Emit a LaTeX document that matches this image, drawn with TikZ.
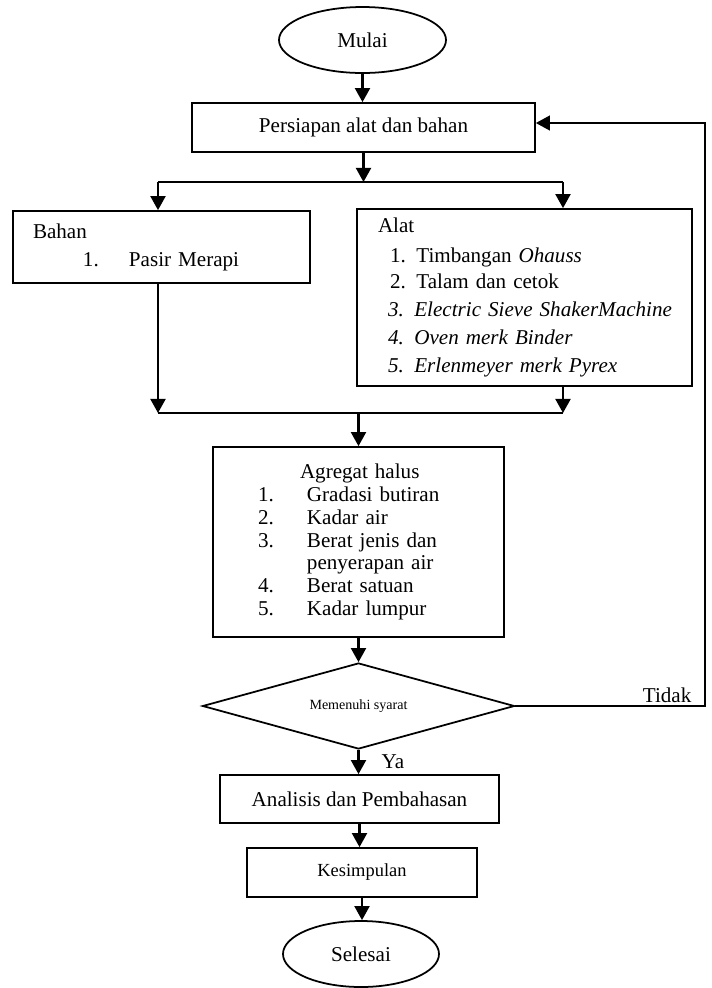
\documentclass[tikz,border=0pt]{standalone}
\usepackage{fontspec}
\setmainfont{Liberation Serif}
\usetikzlibrary{arrows.meta, positioning, calc, shapes.geometric}
\tikzset{
    procbox/.style={draw, line width=1pt, rectangle, inner sep=0pt,
                    font=\fontsize{12}{13}\selectfont},
    termnode/.style={draw, line width=1pt, ellipse, inner sep=0pt,
                     font=\fontsize{12}{13}\selectfont},
    decnode/.style={draw, line width=1pt, diamond, inner sep=0pt,
                    shape aspect=3.6, font=\fontsize{8}{9}\selectfont},
    flowarrow/.style={-{Triangle[length=8pt, width=8.5pt]}, line width=1.3pt},
    flowline/.style={-, line width=1.1pt},
    looparrow/.style={-{Triangle[length=8pt, width=8.5pt]}, line width=0.8pt},
    flowlabel/.style={font=\fontsize{12}{13}\selectfont, inner sep=0pt},
}

\begin{document}
\begin{tikzpicture}
\useasboundingbox (0,0) rectangle (14.22,-19.76);
% Start and preparation.
\node[termnode, minimum width=3.34cm, minimum height=1.32cm] (mulai) at (7.25,-0.80) {Mulai};
\node[procbox, minimum width=6.86cm, minimum height=0.98cm] (persiapan) at (7.27,-2.55) {Persiapan alat dan bahan};
% Materials and tools.
\node[procbox, minimum height=1.44cm, text width=5.14cm, inner xsep=0.40cm, align=left] (bahan) at (3.23,-4.94)
    {Bahan\\[2.9pt]
     \hspace*{1.0cm}\makebox[0.92cm][l]{1.}Pasir Merapi};
\node[procbox, minimum height=3.54cm, text width=6.50cm, inner xsep=0.10cm, align=left] (alat) at (10.49,-5.95)
    {\hspace*{0.32cm}Alat\\[4pt]
     \hspace*{0.56cm}1. Timbangan \textit{Ohauss}\\[1.8pt]
     \hspace*{0.56cm}2. Talam dan cetok\\[2.9pt]
     \hspace*{0.52cm}\textit{3. Electric Sieve ShakerMachine}\\[2.9pt]
     \hspace*{0.52cm}\textit{4. Oven merk Binder}\\[2.9pt]
     \hspace*{0.52cm}\textit{5. Erlenmeyer merk Pyrex}};
% Tests on the fine aggregate.
\node[procbox, minimum height=3.80cm, text width=4.02cm, inner xsep=0.90cm, align=left] (agregat) at (7.17,-10.84)
    {\hspace*{0.84cm}Agregat halus\\
     \makebox[0.98cm][l]{1.}Gradasi butiran\\
     \makebox[0.98cm][l]{2.}Kadar air\\
     \makebox[0.98cm][l]{3.}Berat jenis dan\\
     \hspace*{0.98cm}penyerapan air\\
     \makebox[0.98cm][l]{4.}Berat satuan\\
     \makebox[0.98cm][l]{5.}Kadar lumpur};
% Decision and end.
\node[decnode, minimum width=6.24cm, minimum height=1.72cm] (syarat) at (7.17,-14.12) {Memenuhi syarat};
\node[procbox, minimum width=5.58cm, minimum height=0.96cm] (analisis) at (7.19,-15.98) {Analisis dan Pembahasan};
\node[procbox, minimum width=4.60cm, minimum height=0.98cm, font=\fontsize{10.5}{12}\selectfont] (kesimpulan) at (7.24,-17.45) {Kesimpulan};
\node[termnode, minimum width=3.12cm, minimum height=1.32cm] (selesai) at (7.22,-19.08) {Selesai};
% Branch and join points.
\coordinate (split) at (7.27,-3.64);
\coordinate (splitL) at (3.16,-3.64);
\coordinate (splitR) at (11.26,-3.64);
\coordinate (join) at (7.17,-8.26);
\coordinate (joinL) at (3.16,-8.26);
\coordinate (joinR) at (11.26,-8.26);
\coordinate (loopB) at (14.10,-14.12);
\coordinate (loopT) at (14.10,-2.46);
% Edges.
\draw[flowarrow] (mulai.south) -- (mulai.south |- persiapan.north);
\draw[flowarrow] (persiapan.south) -- (split);
\draw[flowline] (splitL) -- (splitR);
\draw[flowarrow] (splitL) -- (splitL |- bahan.north);
\draw[flowarrow] (splitR) -- (splitR |- alat.north);
\draw[flowarrow] (splitL |- bahan.south) -- (joinL);
\draw[flowarrow] (splitR |- alat.south) -- (joinR);
\draw[flowline] (joinL) -- (joinR);
\draw[flowarrow] (join) -- (join |- agregat.north);
\draw[flowarrow] (agregat.south) -- (syarat.north);
\draw[flowarrow] (syarat.south) -- (syarat.south |- analisis.north)
    node[flowlabel, midway, right=0.44cm] {Ya};
\draw[looparrow] (syarat.east) -- (loopB)
    node[flowlabel, pos=0.8, above=0.06cm] {Tidak}
    -- (loopT) -- (loopT -| persiapan.east);
\draw[flowarrow] (analisis.south) -- (analisis.south |- kesimpulan.north);
\draw[flowarrow] (kesimpulan.south) -- (kesimpulan.south |- selesai.north);
\end{tikzpicture}
\end{document}
